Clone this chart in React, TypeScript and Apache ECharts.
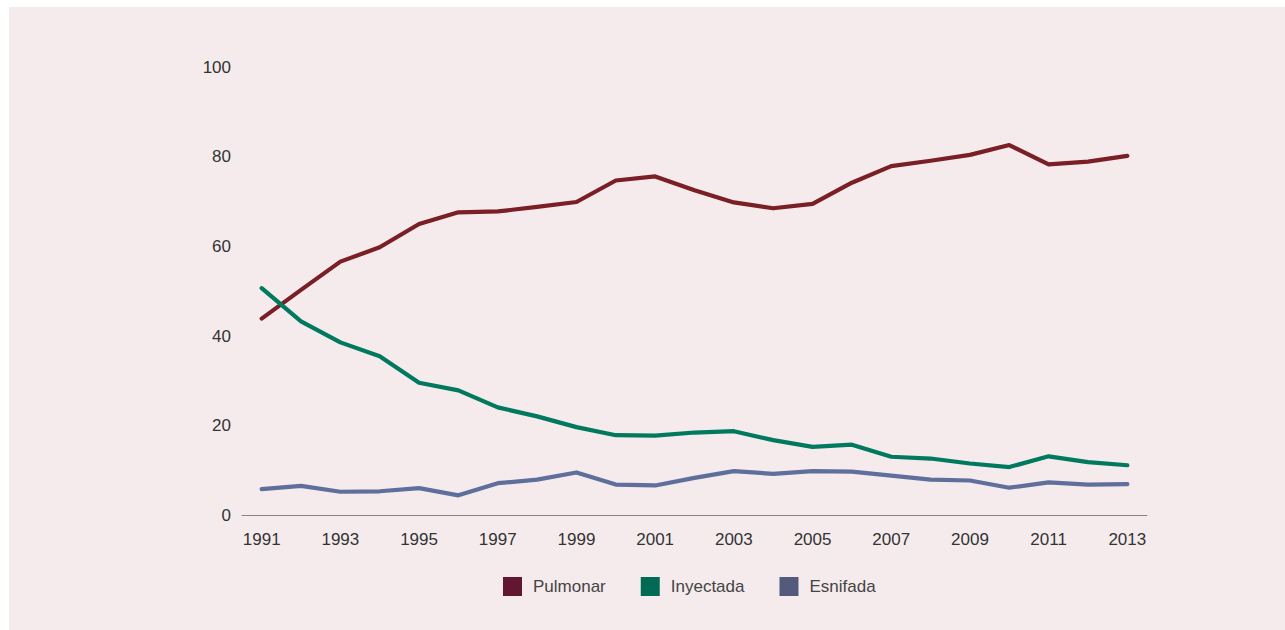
import React, { useEffect, useRef } from "react";
import * as echarts from "echarts";

const years = [
  "1991", "1992", "1993", "1994", "1995", "1996", "1997", "1998", "1999", "2000",
  "2001", "2002", "2003", "2004", "2005", "2006", "2007", "2008", "2009", "2010",
  "2011", "2012", "2013",
];

const pulmonar = [
  43.9, 50.3, 56.6, 59.8, 65.0, 67.6, 67.8, 68.8, 69.9, 74.7,
  75.6, 72.5, 69.8, 68.5, 69.5, 74.2, 77.9, 79.1, 80.4, 82.6,
  78.3, 78.9, 80.2,
];

const inyectada = [
  50.7, 43.3, 38.6, 35.5, 29.6, 27.9, 24.1, 22.1, 19.7, 17.9,
  17.8, 18.5, 18.8, 16.8, 15.3, 15.8, 13.1, 12.7, 11.6, 10.8,
  13.2, 11.9, 11.2,
];

const esnifada = [
  5.9, 6.6, 5.3, 5.4, 6.1, 4.5, 7.2, 8.0, 9.6, 6.9,
  6.7, 8.4, 9.9, 9.3, 9.9, 9.8, 8.9, 8.0, 7.8, 6.2,
  7.4, 6.9, 7.0,
];

const seriesNames = ["Pulmonar", "Inyectada", "Esnifada"];
const lineColors = ["#7a1f25", "#00795f", "#5e6f9b"];
const legendColors = ["#621632", "#006a55", "#535a7c"];

const FONT = "'Liberation Sans', Helvetica, Arial, sans-serif";

export default function App() {
  const ref = useRef<HTMLDivElement>(null);

  useEffect(() => {
    if (!ref.current) return;
    const chart = echarts.init(ref.current, undefined, { renderer: "svg" });
    const datasets = [pulmonar, inyectada, esnifada];
    chart.setOption({
      animation: false,
      backgroundColor: "#f5ebed",
      textStyle: { fontFamily: FONT },
      grid: { left: 233, right: 138, top: 60, bottom: 114.5, containLabel: false },
      legend: {
        left: 489,
        top: 565,
        itemWidth: 19,
        itemHeight: 19,
        itemGap: 35,
        icon: "rect",
        textStyle: { fontSize: 17, color: "#444", fontFamily: FONT, padding: [0, 0, 0, 6] },
        data: seriesNames.map((n, i) => ({
          name: n,
          icon: "rect",
          itemStyle: { color: legendColors[i] },
        })),
      },
      xAxis: {
        type: "category",
        data: years,
        boundaryGap: true,
        axisLine: { show: true, lineStyle: { color: "#8a8585", width: 1 } },
        axisTick: { show: false },
        axisLabel: {
          interval: 1,
          fontSize: 17,
          color: "#333",
          margin: 15,
          fontFamily: FONT,
        },
        splitLine: { show: false },
      },
      yAxis: {
        type: "value",
        min: 0,
        max: 100,
        interval: 20,
        axisLine: { show: false },
        axisTick: { show: false },
        splitLine: { show: false },
        axisLabel: { fontSize: 17, color: "#333", margin: 11, fontFamily: FONT },
      },
      series: datasets.map((d, i) => ({
        name: seriesNames[i],
        type: "line",
        data: d,
        symbol: "none",
        showSymbol: false,
        lineStyle: { color: lineColors[i], width: 4.2, cap: "round", join: "round" },
        itemStyle: { color: lineColors[i] },
      })),
    });
    return () => chart.dispose();
  }, []);

  return (
    <div
      ref={ref}
      style={{ position: "absolute", left: 9, top: 7, width: 1276, height: 623 }}
    />
  );
}
